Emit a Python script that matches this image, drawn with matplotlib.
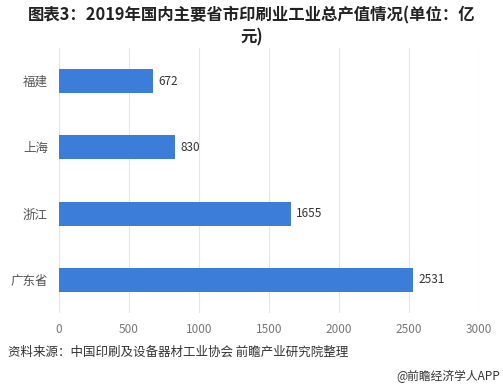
import numpy as np
import matplotlib.pyplot as plt

plt.rcParams['font.family'] = ['Noto Sans CJK SC', 'DejaVu Sans']

provinces = ["福建", "上海", "浙江", "广东省"]
values = [672, 830, 1655, 2531]
xticks = [0, 500, 1000, 1500, 2000, 2500, 3000]

fig = plt.figure(figsize=(5.03, 3.89), dpi=100)
ax = fig.add_axes([59 / 503, 1 - 313 / 389, 420 / 503, 265 / 389])

y = np.arange(len(provinces))
ax.barh(y, values, height=0.36, color="#3b7dd8", zorder=3)
for yi, v in zip(y, values):
    ax.text(v + 40, yi, str(v), va="center", ha="left", fontsize=8.5, color="#333333")

ax.set_xlim(0, 3000)
ax.set_ylim(-0.5, len(provinces) - 0.5)
ax.invert_yaxis()
ax.set_yticks(y)
ax.set_yticklabels(provinces, fontsize=9, color="#555555")
ax.set_xticks(xticks)
ax.set_xticklabels([str(t) for t in xticks], fontsize=8.5, color="#777777")
ax.tick_params(length=0, pad=8)
ax.tick_params(axis="x", pad=7)
ax.grid(axis="x", color="#e6e6e6", linewidth=0.8, zorder=0)
for s in ax.spines.values():
    s.set_visible(False)

fig.text(0.5, 1 - 15 / 389, "图表3：2019年国内主要省市印刷业工业总产值情况(单位：亿",
         ha="center", va="center", fontsize=11.8, fontweight="bold", color="#222222")
fig.text(0.5, 1 - 37 / 389, "元)", ha="center", va="center",
         fontsize=11.8, fontweight="bold", color="#222222")
fig.text(8 / 503, 1 - 352 / 389, "资料来源：中国印刷及设备器材工业协会 前瞻产业研究院整理",
         ha="left", va="center", fontsize=9, color="#333333")
fig.text(500 / 503, 1 - 376 / 389, "@前瞻经济学人APP",
         ha="right", va="center", fontsize=8.5, color="#333333")

plt.savefig("out.png", dpi=100)
